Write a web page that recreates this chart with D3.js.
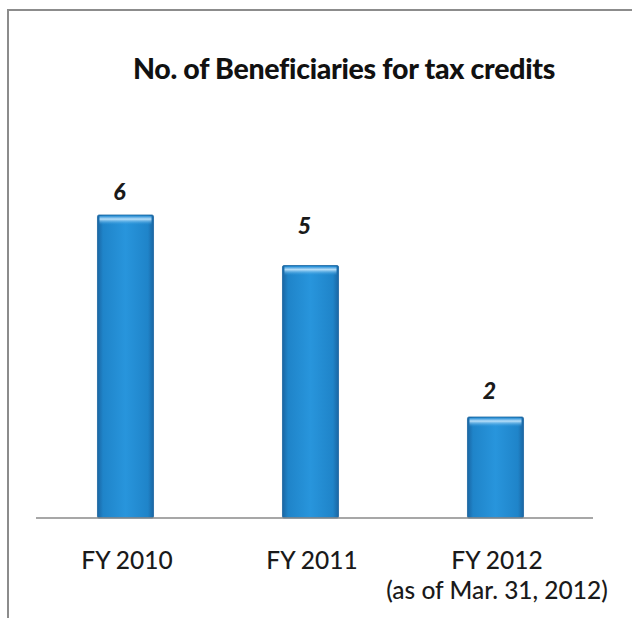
<!DOCTYPE html>
<html>
<head>
<meta charset="utf-8">
<script src="https://cdn.jsdelivr.net/npm/d3@7/dist/d3.min.js"></script>
<style>
  html, body { margin: 0; padding: 0; background: #fff; }
  svg { display: block; }
</style>
</head>
<body>
<svg id="chart" width="632" height="618"></svg>
<script>
// Data
const categories = ["FY 2010", "FY 2011", "FY 2012"];
const subLabels = ["", "", "(as of Mar. 31, 2012)"];
const beneficiaries = [6, 5, 2];
const chartTitle = "No. of Beneficiaries for tax credits";

// Small vertical lift of each value label above its bar
const labelLift = [15, 32, 18];

const svg = d3.select("#chart");
const W = 632, H = 618;
const font = "Lato, 'Open Sans', sans-serif";

// Frame (left and top edges of the chart area)
svg.append("path")
  .attr("d", `M8,${H} L8,10 L${W},10`)
  .attr("fill", "none")
  .attr("stroke", "#8c8c8c")
  .attr("stroke-width", 2);

// Scales
const x = d3.scaleBand()
  .domain(categories)
  .range([33, 588])
  .paddingInner(0.697)
  .paddingOuter(0.3485);

const y = d3.scaleLinear()
  .domain([0, 7])
  .range([518, 164.5]);

// Bar gradient
const defs = svg.append("defs");
const g = defs.append("linearGradient")
  .attr("id", "barGrad")
  .attr("x1", "0%").attr("x2", "100%").attr("y1", "0%").attr("y2", "0%");
[["0%", "#1a66a3"], ["10%", "#1f84c9"], ["50%", "#2895dc"], ["90%", "#1f84c9"], ["100%", "#1a66a3"]]
  .forEach(([o, c]) => g.append("stop").attr("offset", o).attr("stop-color", c));

const hl = defs.append("linearGradient")
  .attr("id", "topGrad")
  .attr("x1", "0%").attr("x2", "0%").attr("y1", "0%").attr("y2", "100%");
[["0%", "#2a8fd6", 1], ["35%", "#bfe3fb", 0.95], ["100%", "#2895dd", 0]]
  .forEach(([o, c, op]) => hl.append("stop").attr("offset", o).attr("stop-color", c).attr("stop-opacity", op));

// Bars
const bars = svg.append("g");
bars.selectAll("rect.bar")
  .data(beneficiaries)
  .join("rect")
  .attr("class", "bar")
  .attr("x", (d, i) => x(categories[i]))
  .attr("y", d => y(d))
  .attr("width", x.bandwidth())
  .attr("height", d => y(0) - y(d))
  .attr("rx", 1.5)
  .attr("fill", "url(#barGrad)")
  .attr("stroke", "#1a64a0")
  .attr("stroke-width", 0.8);

// Glossy band along the top of each bar
bars.selectAll("rect.gloss")
  .data(beneficiaries)
  .join("rect")
  .attr("class", "gloss")
  .attr("x", (d, i) => x(categories[i]) + 2)
  .attr("y", d => y(d) + 1)
  .attr("width", x.bandwidth() - 4)
  .attr("height", 9)
  .attr("fill", "url(#topGrad)");

// Baseline
svg.append("line")
  .attr("x1", 36).attr("x2", 593)
  .attr("y1", y(0)).attr("y2", y(0))
  .attr("stroke", "#8a8a8a")
  .attr("stroke-width", 1.5);

// Value labels
svg.selectAll("text.value")
  .data(beneficiaries)
  .join("text")
  .attr("class", "value")
  .attr("x", (d, i) => x(categories[i]) + x.bandwidth() / 2 - 6)
  .attr("y", (d, i) => y(d) - labelLift[i])
  .attr("text-anchor", "middle")
  .attr("font-family", font)
  .attr("font-weight", 900)
  .attr("font-style", "italic")
  .attr("font-size", 23)
  .attr("fill", "#1a1a1a")
  .text(d => d);

// Category labels
svg.selectAll("text.cat")
  .data(categories)
  .join("text")
  .attr("class", "cat")
  .attr("x", d => x(d) + x.bandwidth() / 2 + 1.5)
  .attr("y", 569)
  .attr("text-anchor", "middle")
  .attr("font-family", font)
  .attr("font-weight", 500)
  .attr("font-size", 24.5)
  .attr("fill", "#1a1a1a")
  .text(d => d);

svg.selectAll("text.sub")
  .data(subLabels)
  .join("text")
  .attr("class", "sub")
  .attr("x", (d, i) => x(categories[i]) + x.bandwidth() / 2 + 1.5)
  .attr("y", 599)
  .attr("text-anchor", "middle")
  .attr("font-family", font)
  .attr("font-weight", 500)
  .attr("font-size", 24.5)
  .attr("fill", "#1a1a1a")
  .text(d => d);

// Title
svg.append("text")
  .attr("x", 344)
  .attr("y", 79)
  .attr("text-anchor", "middle")
  .attr("font-family", font)
  .attr("font-weight", 900)
  .attr("font-size", 28.5)
  .attr("letter-spacing", -0.3)
  .attr("fill", "#111")
  .text(chartTitle);
</script>
</body>
</html>
